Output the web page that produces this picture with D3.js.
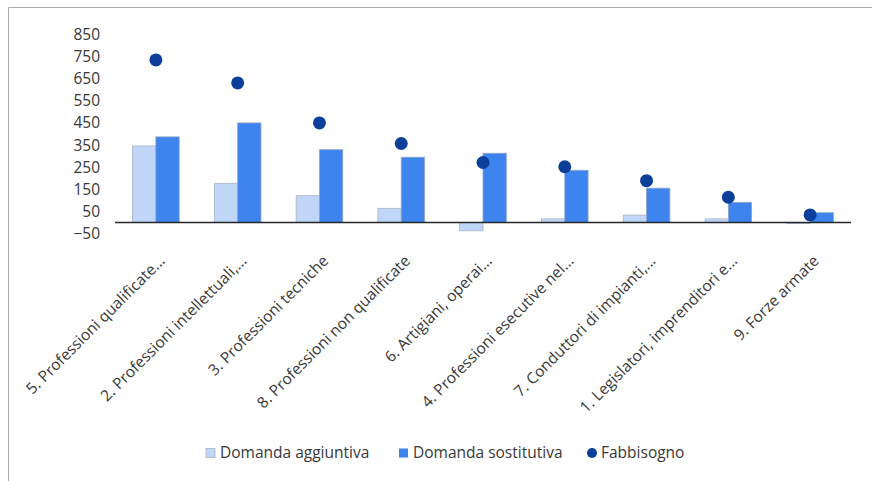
<!DOCTYPE html>
<html>
<head>
<meta charset="utf-8">
<script src="https://cdn.jsdelivr.net/npm/d3@7"></script>
<style>
  body { margin: 0; background: #fff; }
  svg { display: block; font-family: "Open Sans", sans-serif; }
</style>
</head>
<body>
<div id="chart"></div>
<script>
// Categories and values
var categories = [
  "5. Professioni qualificate...",
  "2. Professioni intellettuali,...",
  "3. Professioni tecniche",
  "8. Professioni non qualificate",
  "6. Artigiani, operai...",
  "4. Professioni esecutive nel...",
  "7. Conduttori di impianti,...",
  "1. Legislatori, imprenditori e...",
  "9. Forze armate"
];
var aggiuntiva = [346, 177, 121, 64, -38, 16, 33, 16, -5];
var sostitutiva = [387, 450, 329, 295, 313, 236, 155, 91, 44];
var fabbisogno = [735, 631, 450, 357, 271, 252, 189, 114, 34];
var yTicks = [-50, 50, 150, 250, 350, 450, 550, 650, 750, 850];
var seriesNames = ["Domanda aggiuntiva", "Domanda sostitutiva", "Fabbisogno"];

var colors = { light: "#bfd6f8", dark: "#3d84ef", dot: "#0b3f9a" };

var width = 872, height = 481;
var fontSize = 15.5;

var svg = d3.select("#chart").append("svg")
  .attr("width", width)
  .attr("height", height);

// Outer frame (only left and top edges visible)
svg.append("path")
  .attr("d", "M8.5," + height + "V7.5H" + width)
  .attr("fill", "none")
  .attr("stroke", "#ababab")
  .attr("stroke-width", 1);

// Scales
var x = d3.scaleBand()
  .domain(categories)
  .range([115, 851])
  .paddingInner(0.43)
  .paddingOuter(0.215);

var xSub = d3.scaleBand()
  .domain(["agg", "sos"])
  .range([0, x.bandwidth()]);

var y = d3.scaleLinear()
  .domain([-50, 850])
  .range([233.5, 34.5]);

var rows = categories.map(function (c, i) {
  return { cat: c, agg: aggiuntiva[i], sos: sostitutiva[i], fab: fabbisogno[i] };
});

// Y tick labels (no axis line, no gridlines)
var yAxis = d3.axisLeft(y).tickValues(yTicks).tickSize(0).tickPadding(0);
var yg = svg.append("g")
  .attr("transform", "translate(100,0)")
  .call(yAxis);
yg.select(".domain").remove();
yg.selectAll("text")
  .attr("font-family", "Open Sans, sans-serif")
  .attr("font-size", fontSize)
  .attr("fill", "#383838");

// Bars
var groups = svg.selectAll(".grp")
  .data(rows)
  .enter().append("g")
  .attr("class", "grp")
  .attr("transform", function (d) { return "translate(" + x(d.cat) + ",0)"; });

groups.append("rect")
  .attr("x", xSub("agg"))
  .attr("width", xSub.bandwidth())
  .attr("y", function (d) { return y(Math.max(0, d.agg)); })
  .attr("height", function (d) { return Math.abs(y(d.agg) - y(0)); })
  .attr("fill", colors.light)
  .attr("stroke", "#a9b4c6")
  .attr("stroke-width", 0.8);

groups.append("rect")
  .attr("x", xSub("sos"))
  .attr("width", xSub.bandwidth())
  .attr("y", function (d) { return y(Math.max(0, d.sos)); })
  .attr("height", function (d) { return Math.abs(y(d.sos) - y(0)); })
  .attr("fill", colors.dark)
  .attr("stroke", "#8fa6c8")
  .attr("stroke-width", 0.8);

// X axis line at zero
svg.append("line")
  .attr("x1", 115).attr("x2", 851)
  .attr("y1", y(0)).attr("y2", y(0))
  .attr("stroke", "#262626")
  .attr("stroke-width", 1.5);

// Fabbisogno dots
svg.selectAll(".dot")
  .data(rows)
  .enter().append("circle")
  .attr("class", "dot")
  .attr("cx", function (d) { return x(d.cat) + x.bandwidth() / 2; })
  .attr("cy", function (d) { return y(d.fab); })
  .attr("r", 6.5)
  .attr("fill", colors.dot);

// Rotated category labels
svg.selectAll(".xlab")
  .data(categories)
  .enter().append("text")
  .attr("class", "xlab")
  .attr("transform", function (d) {
    return "translate(" + (x(d) + x.bandwidth() / 2 + 6) + ",258) rotate(-45)";
  })
  .attr("text-anchor", "end")
  .attr("dy", "0.35em")
  .attr("font-size", fontSize)
  .attr("fill", "#383838")
  .text(function (d) { return d; });

// Legend
var legend = svg.append("g").attr("transform", "translate(0,453)");
var legendItems = [
  { name: seriesNames[0], x: 206, type: "rect", color: colors.light, stroke: "#a9b4c6" },
  { name: seriesNames[1], x: 399, type: "rect", color: colors.dark, stroke: "none" },
  { name: seriesNames[2], x: 587, type: "circle", color: colors.dot, stroke: "none" }
];
legendItems.forEach(function (it) {
  if (it.type === "rect") {
    legend.append("rect")
      .attr("x", it.x).attr("y", -4.5)
      .attr("width", 9).attr("height", 9)
      .attr("fill", it.color)
      .attr("stroke", it.stroke)
      .attr("stroke-width", 0.8);
  } else {
    legend.append("circle")
      .attr("cx", it.x + 5).attr("cy", 0)
      .attr("r", 5)
      .attr("fill", it.color);
  }
  legend.append("text")
    .attr("x", it.x + 14)
    .attr("dy", "0.35em")
    .attr("font-size", fontSize)
    .attr("fill", "#383838")
    .text(it.name);
});
</script>
</body>
</html>
